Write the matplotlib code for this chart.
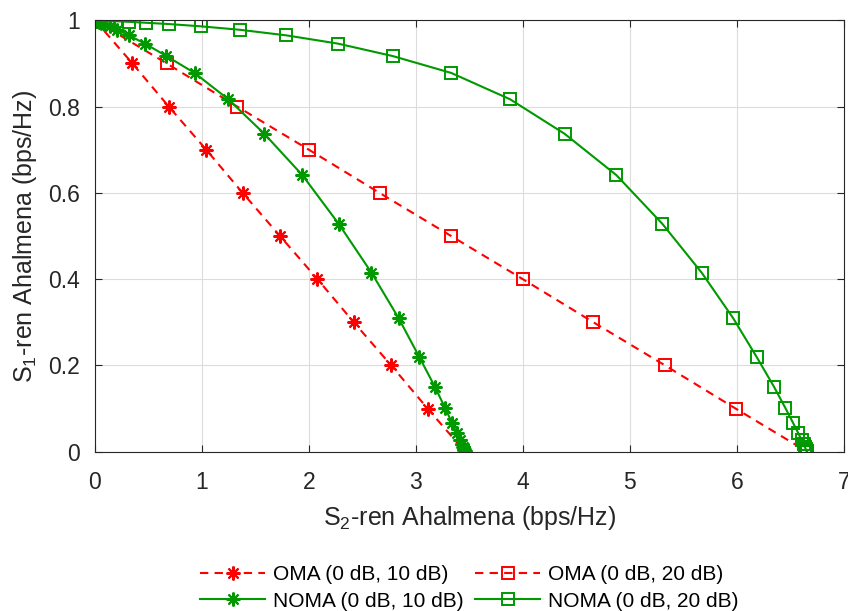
import matplotlib
matplotlib.use("Agg")
import matplotlib.pyplot as plt
from matplotlib.ticker import FuncFormatter

plt.rcParams['font.family'] = ['Liberation Sans', 'DejaVu Sans']
plt.rcParams['mathtext.fontset'] = 'custom'
plt.rcParams['mathtext.rm'] = 'Liberation Sans'
plt.rcParams['mathtext.it'] = 'Liberation Sans:italic'

# ---- data ----
oma_y = [1.0, 0.9, 0.8, 0.7, 0.6, 0.5, 0.4, 0.3, 0.2, 0.1, 0.0]
oma10_x = [0.0, 0.35, 0.69, 1.04, 1.38, 1.73, 2.08, 2.42, 2.77, 3.11, 3.46]
oma20_x = [0.0, 0.67, 1.33, 2.0, 2.66, 3.33, 4.0, 4.66, 5.33, 5.99, 6.66]

noma_y = [1.000, 0.9997, 0.9995, 0.9992, 0.9987, 0.9978, 0.9964, 0.9942, 0.9913,
          0.986, 0.978, 0.965, 0.946, 0.917, 0.878, 0.817, 0.737, 0.641, 0.528,
          0.415, 0.310, 0.220, 0.151, 0.101, 0.066, 0.043, 0.027, 0.017, 0.010,
          0.006, 0.004, 0.002, 0.001, 0.000]
noma10_x = [0.0, 0.003, 0.005, 0.008, 0.014, 0.021, 0.035, 0.056, 0.086,
            0.136, 0.209, 0.317, 0.467, 0.668, 0.931, 1.246, 1.583, 1.939, 2.279,
            2.585, 2.838, 3.031, 3.177, 3.274, 3.340, 3.383, 3.411, 3.429, 3.440,
            3.448, 3.452, 3.455, 3.457, 3.459]
noma20_x = [0.0, 0.03, 0.05, 0.08, 0.13, 0.20, 0.32, 0.48, 0.69,
            0.99, 1.355, 1.79, 2.27, 2.785, 3.33, 3.88, 4.39, 4.875, 5.305,
            5.672, 5.965, 6.185, 6.347, 6.455, 6.528, 6.575, 6.606, 6.625, 6.637,
            6.645, 6.650, 6.653, 6.656, 6.658]

labels = ['OMA (0 dB, 10 dB)', 'OMA (0 dB, 20 dB)',
          'NOMA (0 dB, 10 dB)', 'NOMA (0 dB, 20 dB)']
x_ticks = [0, 1, 2, 3, 4, 5, 6, 7]
y_ticks = [0, 0.2, 0.4, 0.6, 0.8, 1.0]

red = '#ff0000'
green = '#009900'
axc = '#262626'

fig = plt.figure(figsize=(8.48, 6.11), dpi=100)
ax = fig.add_axes([0.112, 0.2606, 0.883, 0.7062])

star = (8, 2, 0)
l1, = ax.plot(oma10_x, oma_y, color=red, lw=1.5, dashes=(4, 3),
              marker=star, markersize=10, mew=1.5, label=labels[0])
l2, = ax.plot(oma20_x, oma_y, color=red, lw=1.5, dashes=(4, 3),
              marker='s', markersize=8, mew=1.4, mfc='none', label=labels[1])
l3, = ax.plot(noma10_x, noma_y, color=green, lw=1.5,
              marker=star, markersize=10, mew=1.5, label=labels[2])
l4, = ax.plot(noma20_x, noma_y, color=green, lw=1.5,
              marker='s', markersize=8, mew=1.4, mfc='none', label=labels[3])

ax.set_xlim(0, 7)
ax.set_ylim(0, 1)
ax.set_xticks(x_ticks)
ax.set_yticks(y_ticks)
ax.yaxis.set_major_formatter(FuncFormatter(lambda v, p: '%g' % v))
ax.grid(True, color='#dcdcdc', lw=0.8)
ax.set_axisbelow(True)
ax.tick_params(direction='in', length=5, width=0.8, top=True, right=True,
               labelsize=16.5, colors=axc)
ax.tick_params(axis='x', pad=14)
ax.tick_params(axis='y', pad=11)
for s in ax.spines.values():
    s.set_color(axc)
    s.set_linewidth(0.8)

ax.set_xlabel('S$_2$-ren Ahalmena (bps/Hz)', fontsize=18, color=axc, labelpad=7)
ax.set_ylabel('S$_1$-ren Ahalmena (bps/Hz)', fontsize=18, color=axc, labelpad=6)

fig.legend(handles=[l1, l3, l2, l4], loc='center', bbox_to_anchor=(0.5537, 0.0376),
           ncol=2, frameon=False, fontsize=15, handlelength=3.1, handletextpad=0.4,
           columnspacing=0.55, labelspacing=0.35)

fig.savefig('out.png', dpi=100)
